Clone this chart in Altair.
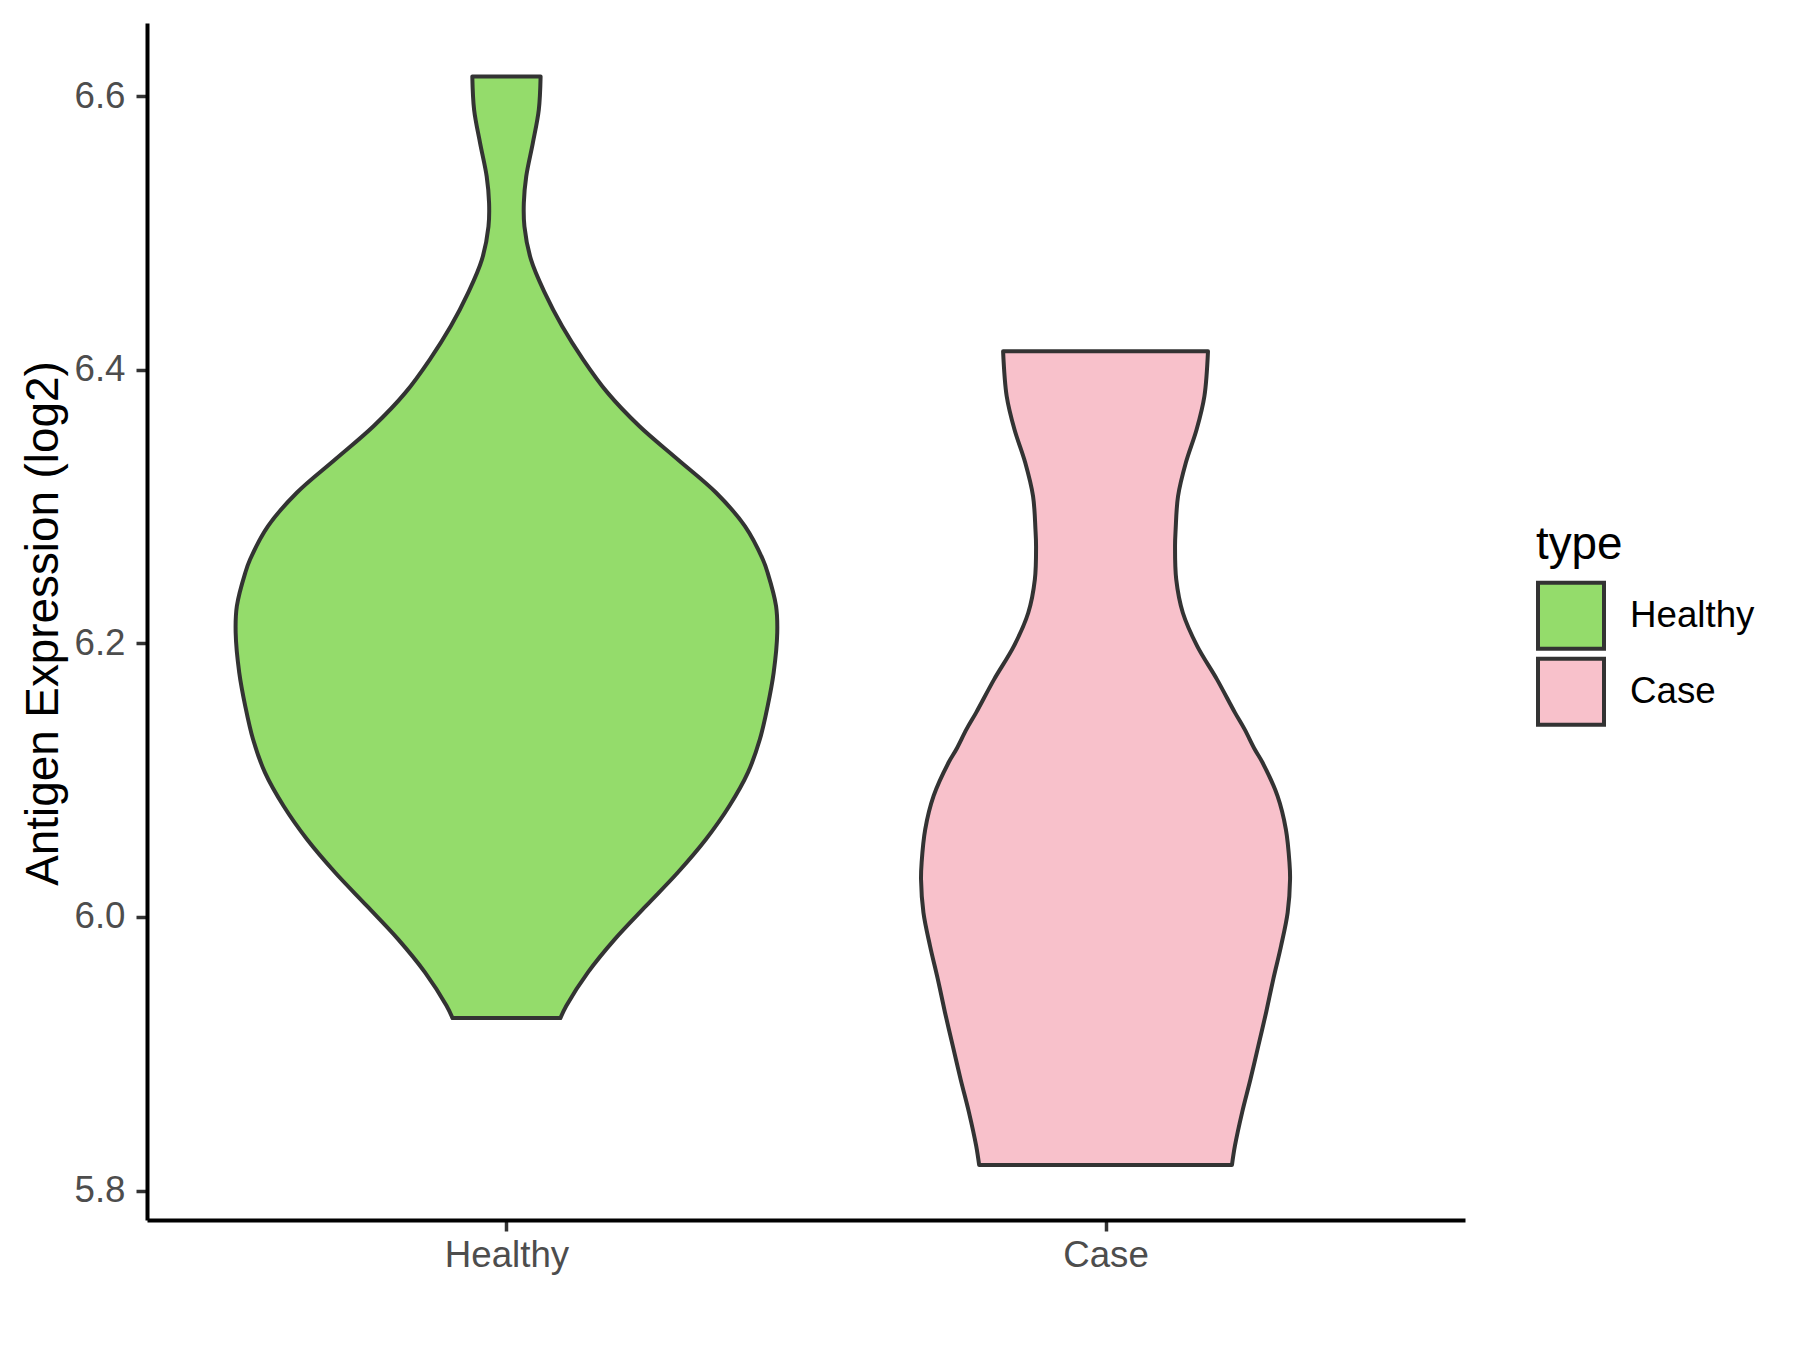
import altair as alt
import pandas as pd

# ---- data (violin outlines: value vs. half-width in category units) ----
groups = ["Healthy", "Case"]
group_pos = [1, 2]
fill_colors = ["#94DC6B", "#F8C1CB"]

healthy_value = [6.6144, 6.5901, 6.5657, 6.5414, 6.5219, 6.5048, 6.4805, 6.4562, 6.4318,
                 6.4075, 6.3831, 6.3587, 6.3344, 6.3101, 6.2857, 6.2613, 6.2516, 6.2273,
                 6.2078, 6.1786, 6.1542, 6.1299, 6.1055, 6.0811, 6.0568, 6.0325, 6.0081,
                 5.9838, 5.9595, 5.9351, 5.9261]
healthy_halfwidth = [0.057, 0.054, 0.044, 0.033, 0.029, 0.030, 0.041, 0.064, 0.093,
                     0.128, 0.169, 0.222, 0.286, 0.350, 0.398, 0.428, 0.436, 0.450,
                     0.452, 0.446, 0.436, 0.423, 0.403, 0.372, 0.333, 0.286, 0.233,
                     0.181, 0.136, 0.100, 0.090]

case_value = [6.4135, 6.3807, 6.3563, 6.3320, 6.3076, 6.2833, 6.2711, 6.2467, 6.2224,
              6.1980, 6.1737, 6.1494, 6.1373, 6.1226, 6.1129, 6.0885, 6.0641, 6.0398,
              6.0276, 6.0033, 5.9789, 5.9546, 5.9302, 5.9058, 5.8815, 5.8572, 5.8328,
              5.8187]
case_halfwidth = [0.171, 0.165, 0.152, 0.134, 0.121, 0.117, 0.116, 0.118, 0.129,
                  0.153, 0.186, 0.216, 0.232, 0.249, 0.262, 0.287, 0.301, 0.307,
                  0.308, 0.304, 0.293, 0.280, 0.268, 0.255, 0.242, 0.228, 0.216,
                  0.211]

y_ticks = [5.8, 6.0, 6.2, 6.4, 6.6]

rows = []
for name, pos, vals, hws in [
    (groups[0], group_pos[0], healthy_value, healthy_halfwidth),
    (groups[1], group_pos[1], case_value, case_halfwidth),
]:
    for v, w in zip(vals, hws):
        rows.append({"type": name, "pos": pos, "value": v, "hw": w})
df = pd.DataFrame(rows)

FONT = "Liberation Sans"
STROKE = "#333333"
LW = 4

chart = (
    alt.Chart(df)
    .transform_calculate(lo="datum.pos - datum.hw", hi="datum.pos + datum.hw")
    .mark_area(orient="horizontal", interpolate="catmull-rom", stroke=STROKE,
               strokeWidth=LW, opacity=1, strokeJoin="round")
    .encode(
        y=alt.Y("value:Q",
                scale=alt.Scale(domain=[5.7785, 6.6535], nice=False, zero=False),
                axis=alt.Axis(values=y_ticks, format=".1f",
                              title="Antigen Expression (log2)",
                              titleX=-89.5, titleY=600, titleAngle=-90,
                              titleBaseline="alphabetic", titleAlign="center",
                              titleFontSize=45.8, titleFont=FONT,
                              titleFontWeight="normal", titleColor="black")),
        x=alt.X("lo:Q",
                scale=alt.Scale(domain=[0.4, 2.6], nice=False, zero=False),
                axis=alt.Axis(values=group_pos, title=None,
                              labelExpr="datum.value == 1 ? 'Healthy' : 'Case'")),
        x2="hi:Q",
        color=alt.Color("type:N",
                        scale=alt.Scale(domain=groups, range=fill_colors),
                        legend=alt.Legend(title="type", orient="none",
                                          legendX=1389, legendY=500)),
    )
    .properties(
        width=1318, height=1197,
        autosize=alt.AutoSizeParams(type="none"),
        padding={"left": 139, "top": 15, "right": 327, "bottom": 122},
    )
    .configure_view(strokeWidth=0)
    .configure_axis(
        grid=False,
        domainColor="black", domainWidth=LW,
        tickColor=STROKE, tickWidth=3.5, tickSize=11,
        labelFont=FONT, labelFontSize=36.7, labelColor="#4D4D4D",
    )
    .configure_axisY(labelPadding=11)
    .configure_axisX(labelPadding=6)
    .configure_legend(
        symbolType="square", symbolSize=4356,
        symbolStrokeColor=STROKE, symbolStrokeWidth=LW, symbolOpacity=1,
        titleFont=FONT, titleFontSize=45.8, titleFontWeight="normal", titleColor="black",
        labelFont=FONT, labelFontSize=36.7, labelColor="black",
        titlePadding=12, rowPadding=-12, labelOffset=24,
    )
)

chart.save("out.html", embed_options={"renderer": "svg", "actions": False})
